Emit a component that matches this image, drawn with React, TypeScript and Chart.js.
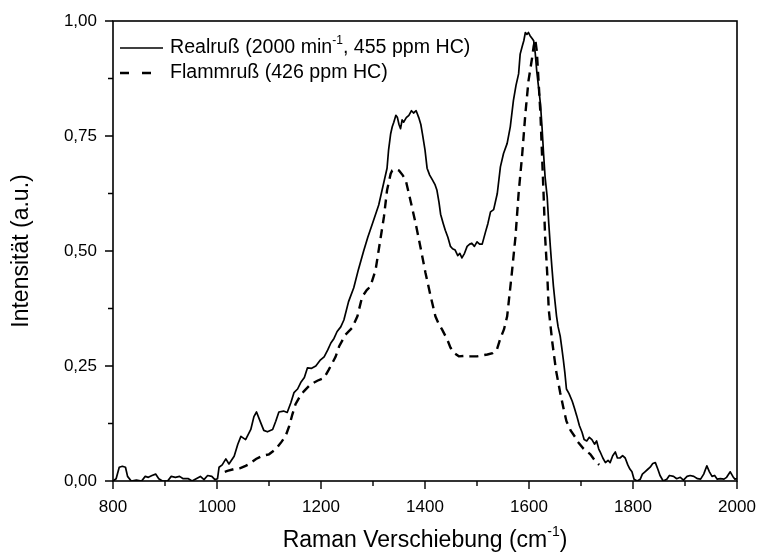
import React, { useEffect, useRef } from "react";
import { Chart, registerables } from "chart.js";

Chart.register(...registerables);

const realX = [800,806,812,818,824,828,835,845,855,862,868,875,882,888,895,905,912,920,928,935,945,952,960,968,975,982,990,996,1001,1004,1010,1017,1023,1033,1040,1046,1055,1065,1071,1076,1084,1090,1097,1107,1113,1119,1128,1135,1142,1148,1155,1161,1168,1174,1182,1190,1198,1206,1213,1219,1225,1231,1238,1244,1253,1263,1272,1282,1290,1299,1305,1311,1316,1321,1327,1330,1334,1337,1340,1344,1347,1350,1353,1356,1359,1364,1369,1374,1378,1383,1388,1392,1395,1400,1404,1409,1414,1419,1423,1427,1430,1435,1439,1444,1449,1453,1458,1463,1467,1471,1476,1481,1486,1490,1495,1500,1505,1510,1516,1521,1526,1532,1539,1545,1551,1558,1564,1570,1575,1580,1583,1587,1590,1593,1596,1599,1602,1606,1609,1612,1615,1618,1622,1625,1628,1631,1635,1638,1641,1644,1647,1650,1653,1656,1660,1663,1666,1669,1672,1677,1683,1687,1692,1697,1702,1706,1711,1716,1721,1726,1730,1734,1737,1742,1747,1752,1756,1761,1766,1770,1775,1780,1785,1790,1794,1798,1802,1808,1814,1818,1823,1828,1833,1838,1843,1848,1852,1858,1865,1870,1878,1884,1891,1897,1904,1910,1917,1924,1930,1936,1942,1947,1952,1957,1962,1968,1975,1980,1987,1992,1996,2000];
const realY = [0.0,0.005,0.03,0.032,0.03,0.01,0.0,0.002,0.0,0.01,0.008,0.012,0.015,0.005,0.0,0.0,0.01,0.008,0.01,0.005,0.005,0.0,0.005,0.01,0.003,0.012,0.01,0.003,0.005,0.03,0.035,0.048,0.037,0.054,0.08,0.097,0.09,0.112,0.14,0.15,0.127,0.11,0.107,0.112,0.13,0.15,0.152,0.149,0.17,0.192,0.2,0.214,0.225,0.246,0.245,0.25,0.262,0.27,0.285,0.3,0.31,0.325,0.335,0.35,0.39,0.42,0.46,0.5,0.53,0.56,0.58,0.6,0.625,0.65,0.68,0.72,0.755,0.77,0.78,0.795,0.79,0.775,0.766,0.785,0.78,0.79,0.795,0.805,0.8,0.805,0.79,0.775,0.755,0.72,0.68,0.665,0.655,0.645,0.632,0.605,0.58,0.56,0.545,0.53,0.51,0.505,0.502,0.49,0.495,0.485,0.495,0.51,0.515,0.517,0.51,0.52,0.515,0.515,0.54,0.56,0.585,0.59,0.625,0.683,0.712,0.734,0.77,0.827,0.86,0.885,0.928,0.945,0.957,0.975,0.971,0.975,0.968,0.962,0.957,0.93,0.89,0.86,0.82,0.77,0.712,0.66,0.617,0.56,0.51,0.465,0.423,0.39,0.358,0.335,0.315,0.29,0.264,0.235,0.2,0.19,0.174,0.16,0.141,0.12,0.106,0.09,0.087,0.095,0.09,0.08,0.087,0.07,0.063,0.05,0.04,0.045,0.04,0.055,0.063,0.05,0.05,0.055,0.05,0.035,0.026,0.02,0.004,0.0,0.004,0.015,0.02,0.025,0.03,0.038,0.04,0.025,0.012,0.0,0.004,0.012,0.01,0.005,0.008,0.002,0.01,0.012,0.01,0.005,0.004,0.015,0.033,0.02,0.01,0.012,0.004,0.005,0.004,0.008,0.02,0.01,0.004,0.005];

const flammX = [1015,1020,1033,1045,1055,1062,1075,1088,1100,1113,1124,1132,1139,1145,1151,1160,1167,1180,1193,1206,1215,1228,1235,1247,1260,1270,1279,1288,1295,1305,1310,1315,1321,1327,1334,1337,1344,1350,1357,1363,1372,1382,1391,1401,1411,1420,1427,1433,1443,1449,1455,1465,1475,1487,1500,1510,1520,1530,1538,1545,1552,1558,1567,1574,1580,1587,1593,1599,1606,1609,1612,1615,1618,1622,1625,1628,1631,1635,1638,1645,1652,1660,1666,1672,1680,1689,1694,1705,1718,1727,1735];
const flammY = [0.02,0.022,0.026,0.028,0.033,0.037,0.048,0.055,0.058,0.069,0.085,0.098,0.12,0.145,0.167,0.185,0.195,0.21,0.218,0.224,0.242,0.27,0.293,0.318,0.333,0.358,0.4,0.415,0.423,0.459,0.495,0.531,0.574,0.632,0.668,0.675,0.678,0.675,0.665,0.654,0.61,0.56,0.51,0.452,0.401,0.358,0.34,0.329,0.307,0.29,0.279,0.271,0.272,0.271,0.271,0.273,0.275,0.278,0.285,0.31,0.33,0.358,0.452,0.531,0.625,0.711,0.798,0.87,0.92,0.945,0.96,0.935,0.877,0.798,0.711,0.625,0.531,0.452,0.372,0.3,0.24,0.192,0.16,0.13,0.11,0.095,0.085,0.07,0.058,0.044,0.035];

const xTicks = [800, 1000, 1200, 1400, 1600, 1800, 2000];
const xMinorTicks = [900, 1100, 1300, 1500, 1700, 1900];
const yTicks = [0, 0.25, 0.5, 0.75, 1.0];
const yMinorTicks = [0.125, 0.375, 0.625, 0.875];

const legendLabels = [
  [{ t: "Realruß (2000 min" }, { t: "-1", sup: true }, { t: ", 455 ppm HC)" }],
  [{ t: "Flammruß (426 ppm HC)" }],
];
const xTitle = [{ t: "Raman Verschiebung (cm" }, { t: "-1", sup: true }, { t: ")" }];
const yTitle = "Intensität (a.u.)";

const FONT = "'Liberation Sans', Arial, sans-serif";

type Part = { t: string; sup?: boolean };

function richWidth(ctx: CanvasRenderingContext2D, parts: Part[], size: number) {
  let w = 0;
  for (const p of parts) {
    ctx.font = `${p.sup ? Math.round(size * 0.62) : size}px ${FONT}`;
    w += ctx.measureText(p.t).width;
  }
  return w;
}

function drawRich(ctx: CanvasRenderingContext2D, parts: Part[], x: number, y: number, size: number) {
  let cx = x;
  ctx.textBaseline = "middle";
  ctx.textAlign = "left";
  for (const p of parts) {
    const s = p.sup ? Math.round(size * 0.62) : size;
    ctx.font = `${s}px ${FONT}`;
    ctx.fillText(p.t, cx, p.sup ? y - size * 0.38 : y);
    cx += ctx.measureText(p.t).width;
  }
}

const framePlugin = {
  id: "frame",
  afterDraw(chart: any) {
    const { ctx, chartArea: a, scales } = chart;
    const xs = scales.x, ys = scales.y;
    ctx.save();
    ctx.strokeStyle = "#000";
    ctx.fillStyle = "#000";
    ctx.lineWidth = 1.6;
    ctx.strokeRect(a.left, a.top, a.right - a.left, a.bottom - a.top);
    ctx.lineWidth = 1.4;
    ctx.beginPath();
    for (const v of xTicks) { const px = xs.getPixelForValue(v); ctx.moveTo(px, a.bottom); ctx.lineTo(px, a.bottom + 8); }
    for (const v of xMinorTicks) { const px = xs.getPixelForValue(v); ctx.moveTo(px, a.bottom); ctx.lineTo(px, a.bottom + 5); }
    for (const v of yTicks) { const py = ys.getPixelForValue(v); ctx.moveTo(a.left, py); ctx.lineTo(a.left - 8, py); }
    for (const v of yMinorTicks) { const py = ys.getPixelForValue(v); ctx.moveTo(a.left, py); ctx.lineTo(a.left - 5, py); }
    ctx.stroke();

    // axis titles
    const ts = 23;
    const w = richWidth(ctx, xTitle, ts);
    drawRich(ctx, xTitle, (a.left + a.right) / 2 - w / 2, 541, ts);
    ctx.save();
    ctx.translate(22, (a.top + a.bottom) / 2);
    ctx.rotate(-Math.PI / 2);
    ctx.font = `${ts}px ${FONT}`;
    ctx.textAlign = "center";
    ctx.textBaseline = "middle";
    ctx.fillText(yTitle, 0, 0);
    ctx.restore();

    // legend
    const ls = 19.6;
    const rows = [48, 73];
    ctx.lineWidth = 1.6;
    ctx.setLineDash([]);
    ctx.beginPath(); ctx.moveTo(120, rows[0]); ctx.lineTo(163, rows[0]); ctx.stroke();
    ctx.lineWidth = 2.4;
    ctx.setLineDash([9, 13]);
    ctx.beginPath(); ctx.moveTo(120, rows[1]); ctx.lineTo(163, rows[1]); ctx.stroke();
    ctx.setLineDash([]);
    drawRich(ctx, legendLabels[0], 170, rows[0], ls);
    drawRich(ctx, legendLabels[1], 170, rows[1], ls);
    ctx.restore();
  },
};

export default function App() {
  const ref = useRef<HTMLCanvasElement>(null);
  useEffect(() => {
    if (!ref.current) return;
    const realData = realX.map((x, i) => ({ x, y: realY[i] }));
    const flammData = flammX.map((x, i) => ({ x, y: flammY[i] }));
    const chart = new Chart(ref.current, {
      type: "line",
      data: {
        datasets: [
          { label: "Realruß", data: realData, borderColor: "#000", borderWidth: 1.7, pointRadius: 0, tension: 0, borderJoinStyle: "round" },
          { label: "Flammruß", data: flammData, borderColor: "#000", borderWidth: 2.4, pointRadius: 0, tension: 0, borderDash: [9, 6] },
        ],
      },
      options: {
        animation: false,
        responsive: false,
        maintainAspectRatio: false,
        layout: { padding: { left: 0, right: 23, top: 21, bottom: 0 } },
        plugins: { legend: { display: false }, tooltip: { enabled: false } },
        scales: {
          x: {
            type: "linear",
            min: 800,
            max: 2000,
            grid: { display: false, drawTicks: false },
            border: { display: false },
            afterBuildTicks: (s: any) => { s.ticks = xTicks.map((v) => ({ value: v })); },
            afterFit: (s: any) => { s.height = 76; s.paddingLeft = 0; s.paddingRight = 0; },
            ticks: { color: "#000", font: { family: FONT, size: 17 }, padding: 16, maxRotation: 0, autoSkip: false, callback: (v: any) => String(v) },
          },
          y: {
            type: "linear",
            min: 0,
            max: 1,
            grid: { display: false, drawTicks: false },
            border: { display: false },
            afterBuildTicks: (s: any) => { s.ticks = yTicks.map((v) => ({ value: v })); },
            afterFit: (s: any) => { s.width = 113; s.paddingTop = 0; s.paddingBottom = 0; },
            ticks: {
              color: "#000",
              font: { family: FONT, size: 17 },
              padding: 16,
              callback: (v: any) => Number(v).toFixed(2).replace(".", ","),
            },
          },
        },
      },
      plugins: [framePlugin],
    });
    return () => chart.destroy();
  }, []);
  return (
    <div style={{ position: "fixed", left: 0, top: 0, width: 760, height: 557, background: "#fff" }}>
      <canvas ref={ref} width={760} height={557} style={{ width: 760, height: 557 }} />
    </div>
  );
}
